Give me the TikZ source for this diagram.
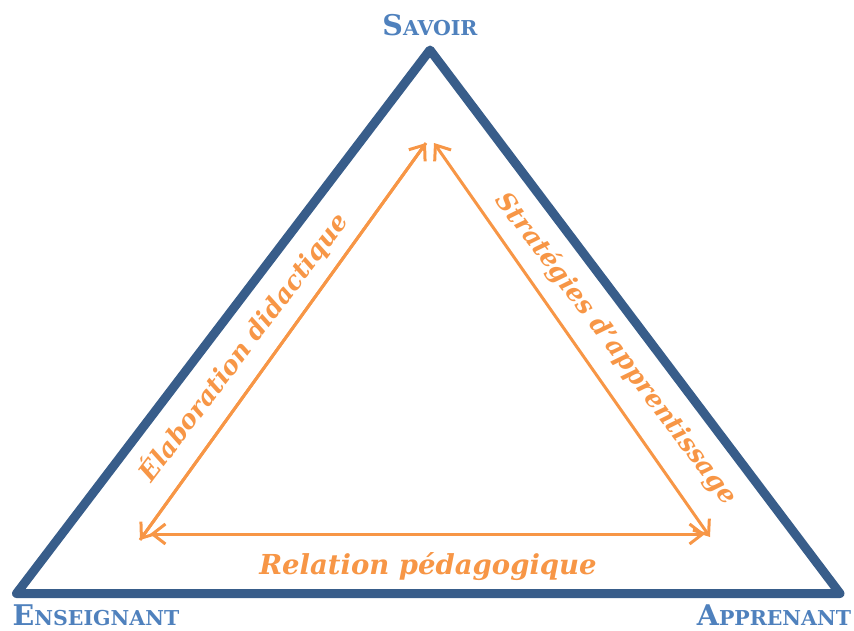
\documentclass[tikz,border=0pt]{standalone}
\usepackage{fontspec}
\setmainfont{DejaVu Serif}
\usetikzlibrary{arrows.meta}
\definecolor{triblue}{HTML}{385D8A}
\definecolor{txtblue}{HTML}{4F81BD}
\definecolor{orng}{HTML}{F79646}
\newcommand{\fsc}[2]{{\fontsize{28.5}{30}\selectfont #1}{\fontsize{20.5}{22}\selectfont #2}}
\tikzset{
  outer/.style={draw=triblue, line width=9pt, line join=round},
  arr/.style={draw=orng, line width=3pt, {Straight Barb[length=13pt,width=20pt]}-{Straight Barb[length=13pt,width=20pt]}},
  arrone/.style={draw=orng, line width=3pt, -{Straight Barb[length=13pt,width=20pt]}},
  pole/.style={text=txtblue, font=\bfseries, inner sep=0pt},
  rel/.style={text=orng, font=\bfseries\itshape\fontsize{25.5}{27}\selectfont, inner sep=0pt},
  relb/.style={text=orng, font=\bfseries\itshape\fontsize{27.5}{29}\selectfont, inner sep=0pt}
}
\begin{document}
\begin{tikzpicture}[x=1pt,y=-1pt]
\useasboundingbox (0,0) rectangle (854,630);
\coordinate (T) at (430,50);
\coordinate (L) at (16.5,593.5);
\coordinate (R) at (840,593.5);
\draw[outer] (L) -- (T) -- (R) -- cycle;
\coordinate (iT1) at (426,143);
\coordinate (iT2) at (434,143);
\coordinate (iL1) at (140,540);
\coordinate (iL2) at (150,534);
\coordinate (iR1) at (710,537);
\coordinate (iR2) at (705,534);
\draw[arrone] (iL1) -- (iT1);
\draw[arrone] (iT1) -- (iL1);
\draw[arr] (iT2) -- (iR1);
\draw[arr] (iL2) -- (iR2);
\node[pole] (S) at (430,25) {\fsc{S}{AVOIR}};
\node[pole] (E) at (96,615) {\fsc{E}{NSEIGNANT}};
\node[pole] (A) at (774,615) {\fsc{A}{PPRENANT}};
\node[rel, rotate=53] (ed) at (243,347) {Élaboration didactique};
\node[rel, rotate=-53] (sa) at (616,349) {Stratégies d’apprentissage};
\node[relb] (rp) at (428,567) {Relation pédagogique};
\end{tikzpicture}
\end{document}
